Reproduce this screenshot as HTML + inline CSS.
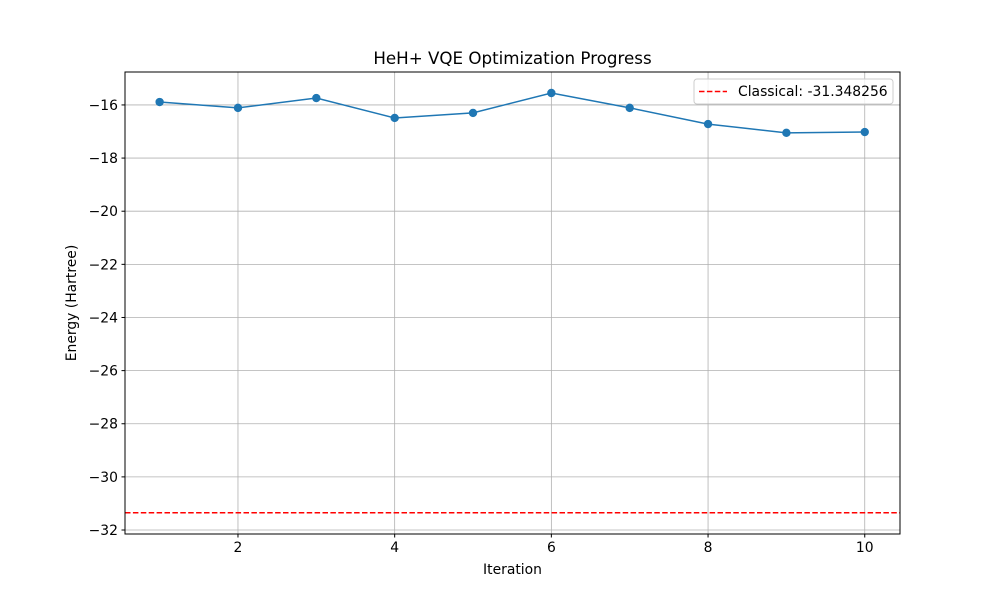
<!DOCTYPE html>
<html><head><meta charset="utf-8"><style>
body{margin:0;background:#fff;}
svg{display:block;font-family:"DejaVu Sans","Liberation Sans",sans-serif;}
</style></head><body>
<svg id="chart" width="1000" height="600" xmlns="http://www.w3.org/2000/svg">
<rect width="1000" height="600" fill="#fff"/>
<g id="grid"></g>
<g id="ticks"></g>
<g id="marks"></g>
<rect x="125" y="72" width="775" height="462" fill="none" stroke="#000" stroke-width="1"/>
<text x="512.5" y="64" text-anchor="middle" font-size="16.7">HeH+ VQE Optimization Progress</text>
<text x="512.5" y="574" text-anchor="middle" font-size="13.9">Iteration</text>
<text x="76" y="303" text-anchor="middle" font-size="13.9" transform="rotate(-90 76 303)">Energy (Hartree)</text>
<g>
<rect x="694" y="79" width="199" height="25" rx="3" fill="#fff" fill-opacity="0.8" stroke="#ccc"/>
<line x1="699" y1="91.5" x2="727" y2="91.5" stroke="red" stroke-width="1.5" stroke-dasharray="5.5,2.4"/>
<text x="738" y="96" font-size="13.9">Classical: -31.348256</text>
</g>
</svg>
<script>
const iterations=[1,2,3,4,5,6,7,8,9,10];
const energies=[-15.89,-16.11,-15.74,-16.49,-16.30,-15.55,-16.11,-16.72,-17.05,-17.02];
const classical=-31.348256;
const xTicks=[2,4,6,8,10];
const yTicks=[-16,-18,-20,-22,-24,-26,-28,-30,-32];
const NS="http://www.w3.org/2000/svg";
const L=125,R=900,T=72,B=534;
const xMin=0.558,xMax=10.45,yMin=-32.15,yMax=-14.76;
const X=v=>L+(v-xMin)/(xMax-xMin)*(R-L);
const Y=v=>B-(v-yMin)/(yMax-yMin)*(B-T);
function mk(tag,attrs,parent){const e=document.createElementNS(NS,tag);for(const k in attrs)e.setAttribute(k,attrs[k]);parent.appendChild(e);return e;}
const grid=document.getElementById('grid'),ticks=document.getElementById('ticks'),marks=document.getElementById('marks');
xTicks.forEach(t=>{const x=X(t);
 let g=mk('line',{x1:x,x2:x,y1:T,y2:B,stroke:'#b0b0b0','stroke-width':0.8},grid);
 
 
 mk('line',{x1:x,x2:x,y1:B,y2:B+3.5,stroke:'#000'},ticks);
 let tx=mk('text',{x:x,y:B+18,'text-anchor':'middle','font-size':13.9},ticks);tx.textContent=t;
 
 
});
yTicks.forEach(t=>{const y=Y(t);
 let g=mk('line',{x1:L,x2:R,y1:y,y2:y,stroke:'#b0b0b0','stroke-width':0.8},grid);
 
 
 mk('line',{x1:L-3.5,x2:L,y1:y,y2:y,stroke:'#000'},ticks);
 let tx=mk('text',{x:L-7,y:y+5,'text-anchor':'end','font-size':13.9},ticks);tx.textContent='\u2212'+Math.abs(t);
 
 
});
const cl=mk('line',{x1:L,x2:R,y1:Y(classical),y2:Y(classical),stroke:'red','stroke-width':1.5,'stroke-dasharray':'5.5,2.4'},marks);


const pl=mk('polyline',{points:iterations.map((v,i)=>X(v)+','+Y(energies[i])).join(' '),fill:'none',stroke:'#1f77b4','stroke-width':1.5},marks);


iterations.forEach((v,i)=>{const c=mk('circle',{cx:X(v),cy:Y(energies[i]),r:4.2,fill:'#1f77b4'},marks);
 
 
});
</script>
</body></html>
